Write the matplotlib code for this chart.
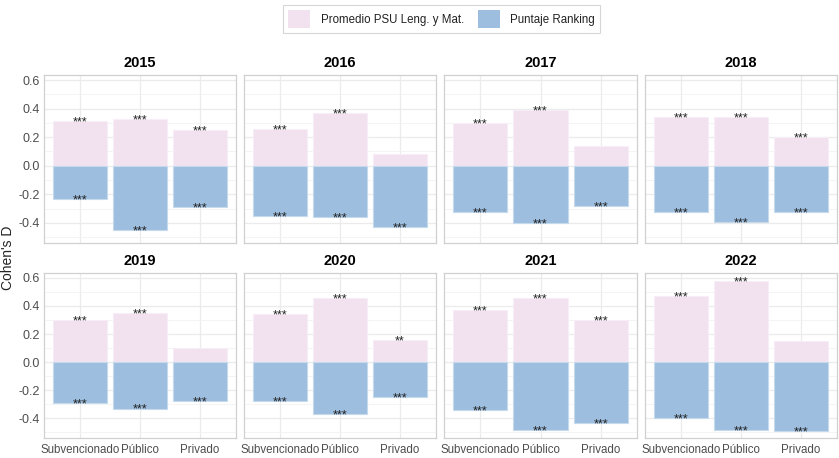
import matplotlib.pyplot as plt
from matplotlib.patches import Patch
from matplotlib.ticker import MultipleLocator

plt.rcParams['font.family'] = ['Liberation Sans', 'DejaVu Sans']

# Data
years = [2015, 2016, 2017, 2018, 2019, 2020, 2021, 2022]
categories = ['Subvencionado', 'Público', 'Privado']

# Cohen's D, Promedio PSU Leng. y Mat. (positive side)
psu_values = [
    [0.31, 0.33, 0.25],
    [0.26, 0.37, 0.08],
    [0.30, 0.39, 0.14],
    [0.34, 0.34, 0.20],
    [0.30, 0.35, 0.10],
    [0.34, 0.46, 0.16],
    [0.37, 0.46, 0.30],
    [0.47, 0.58, 0.15],
]
# Cohen's D, Puntaje Ranking (negative side)
ranking_values = [
    [-0.23, -0.45, -0.29],
    [-0.35, -0.36, -0.43],
    [-0.32, -0.40, -0.28],
    [-0.32, -0.39, -0.32],
    [-0.29, -0.33, -0.28],
    [-0.28, -0.37, -0.25],
    [-0.34, -0.48, -0.43],
    [-0.40, -0.48, -0.49],
]
psu_signif = [
    ['***', '***', '***'],
    ['***', '***', ''],
    ['***', '***', ''],
    ['***', '***', '***'],
    ['***', '***', ''],
    ['***', '***', '**'],
    ['***', '***', '***'],
    ['***', '***', ''],
]
ranking_signif = [['***', '***', '***'] for _ in years]

psu_color = '#F2E2F0'
ranking_color = '#9DBEDF'
text_gray = '#4D4D4D'
W, H = 839, 458

fig = plt.figure(figsize=(W / 100, H / 100), dpi=100)

# panel boxes in pixels (left, right) and (top, bottom)
cols = [(44, 236), (244, 436), (444, 637), (645, 837)]
rows = [(75, 243), (273, 438)]

x = [1, 2, 3]
for i, year in enumerate(years):
    r, c = divmod(i, 4)
    l, rt = cols[c]
    t, b = rows[r]
    ax = fig.add_axes([l / W, 1 - b / H, (rt - l) / W, (b - t) / H])

    ax.bar(x, psu_values[i], width=0.9, color=psu_color, edgecolor='#F8EEF7', linewidth=0.8, zorder=2)
    ax.bar(x, ranking_values[i], width=0.9, color=ranking_color, edgecolor='#C6DAEE', linewidth=0.8, zorder=2)

    for j in range(3):
        if psu_signif[i][j]:
            ax.text(x[j], psu_values[i][j] - 0.01, psu_signif[i][j], ha='center', va='center',
                    fontsize=9, color='#222222', zorder=3)
        if ranking_signif[i][j]:
            ax.text(x[j], ranking_values[i][j] - 0.01, ranking_signif[i][j], ha='center', va='center',
                    fontsize=9, color='#222222', zorder=3)

    ax.set_xlim(0.4, 3.6)
    ax.set_ylim(-0.54, 0.635)
    ax.yaxis.set_major_locator(MultipleLocator(0.2))
    ax.yaxis.set_minor_locator(MultipleLocator(0.1))
    ax.set_xticks(x)
    ax.grid(which='major', color='#EBEBEB', linewidth=0.9, zorder=0)
    ax.grid(which='minor', axis='y', color='#F3F3F3', linewidth=0.6, zorder=0)
    ax.set_axisbelow(True)
    for s in ax.spines.values():
        s.set_color('#D0D0D0')
        s.set_linewidth(0.9)
    ax.tick_params(which='both', length=0, labelsize=9, labelcolor=text_gray, pad=3)
    ax.tick_params(axis='x', labelsize=8.3, pad=4)

    if c == 0:
        ax.set_yticklabels([f'{v:.1f}' for v in ax.get_yticks()])
    else:
        ax.set_yticklabels([])
    if r == 1:
        ax.set_xticklabels(categories)
    else:
        ax.set_xticklabels([])

    ax.set_title(str(year), fontsize=10.5, fontweight='bold', pad=6)

fig.text(8 / W, 1 - 258 / H, "Cohen's D", rotation=90, ha='center', va='center', fontsize=10, color='#222222')

handles = [Patch(facecolor=psu_color, edgecolor='none', label='Promedio PSU Leng. y Mat.'),
           Patch(facecolor=ranking_color, edgecolor='none', label='Puntaje Ranking')]
leg = fig.legend(handles=handles, loc='center', bbox_to_anchor=(441.5 / W, 1 - 19 / H), ncol=2,
                 fontsize=8.3, frameon=True, fancybox=False, edgecolor='#CCCCCC',
                 handlelength=1.9, handleheight=1.9, handletextpad=0.9, columnspacing=1.2,
                 borderpad=0.5)
leg.get_frame().set_linewidth(0.8)
for t in leg.get_texts():
    t.set_color('#222222')

fig.savefig('out.png', dpi=100)
